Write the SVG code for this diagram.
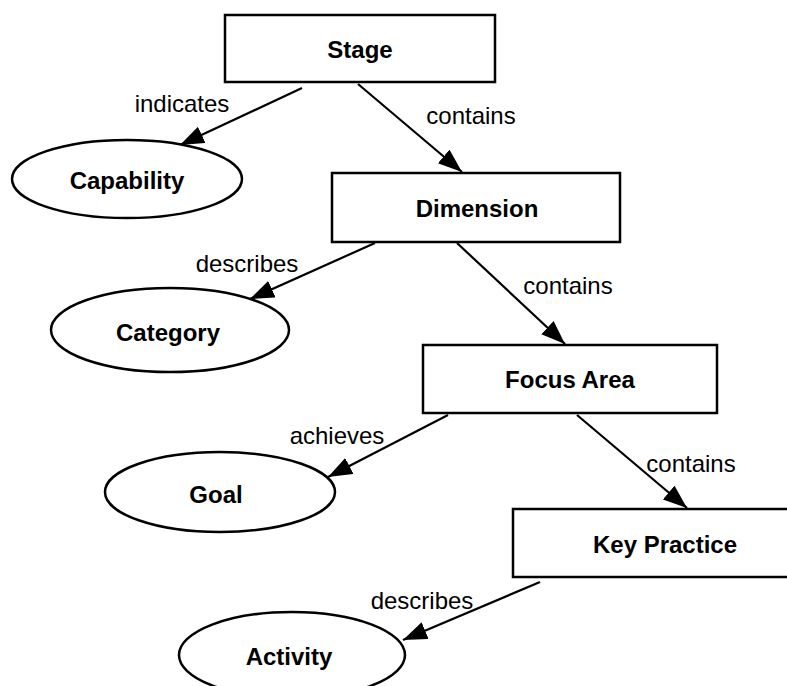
<svg xmlns="http://www.w3.org/2000/svg" width="787" height="686" viewBox="0 0 787 686">
  <style>
    .box { fill: #ffffff; stroke: #000000; stroke-width: 2.5; }
    .ell { fill: #ffffff; stroke: #000000; stroke-width: 2.5; }
    .name { font-family: "Liberation Sans", Arial, sans-serif; font-size: 24px; font-weight: bold; fill: #000000; text-anchor: middle; dominant-baseline: central; }
    .rel { font-family: "Liberation Sans", Arial, sans-serif; font-size: 24px; fill: #000000; text-anchor: middle; dominant-baseline: central; }
    .edge { stroke: #000000; stroke-width: 2.2; fill: none; marker-end: url(#head); }
  </style>
  <defs>
    <marker id="head" markerUnits="userSpaceOnUse" markerWidth="26" markerHeight="20" refX="24" refY="9" orient="auto">
      <path d="M0,0 L24,9 L0,18 Z" fill="#000000"/>
    </marker>
  </defs>
  <rect width="787" height="686" fill="#ffffff"/>

  <!-- relations -->
  <g id="connectors">
    <line class="edge" x1="302" y1="88" x2="180" y2="145"/>
    <line class="edge" x1="358" y1="84" x2="462" y2="172"/>
    <line class="edge" x1="375" y1="243" x2="250" y2="299"/>
    <line class="edge" x1="457" y1="243" x2="565" y2="344"/>
    <line class="edge" x1="448" y1="415" x2="328" y2="477"/>
    <line class="edge" x1="577" y1="415" x2="687" y2="508"/>
    <line class="edge" x1="540" y1="582" x2="403" y2="640"/>
    <text class="rel" x="182" y="103">indicates</text>
    <text class="rel" x="471" y="115">contains</text>
    <text class="rel" x="247" y="263">describes</text>
    <text class="rel" x="568" y="285">contains</text>
    <text class="rel" x="337" y="435">achieves</text>
    <text class="rel" x="691" y="463">contains</text>
    <text class="rel" x="422" y="600">describes</text>
  </g>

  <!-- concepts -->
  <g id="stage">
    <rect class="box" x="225" y="15" width="270" height="67"/>
    <text class="name" x="360" y="49">Stage</text>
  </g>
  <g id="capability">
    <ellipse class="ell" cx="127" cy="179" rx="115" ry="39"/>
    <text class="name" x="127" y="180">Capability</text>
  </g>
  <g id="dimension">
    <rect class="box" x="332" y="173" width="288" height="69"/>
    <text class="name" x="477" y="208">Dimension</text>
  </g>
  <g id="category">
    <ellipse class="ell" cx="170" cy="330" rx="119" ry="42"/>
    <text class="name" x="168" y="332">Category</text>
  </g>
  <g id="focus-area">
    <rect class="box" x="423" y="345" width="294" height="68"/>
    <text class="name" x="570" y="379">Focus Area</text>
  </g>
  <g id="goal">
    <ellipse class="ell" cx="220" cy="492" rx="115" ry="40"/>
    <text class="name" x="216" y="494">Goal</text>
  </g>
  <g id="key-practice">
    <rect class="box" x="513" y="509" width="304" height="68"/>
    <text class="name" x="665" y="544">Key Practice</text>
  </g>
  <g id="activity">
    <ellipse class="ell" cx="292" cy="655" rx="113" ry="43"/>
    <text class="name" x="289" y="656">Activity</text>
  </g>
</svg>
